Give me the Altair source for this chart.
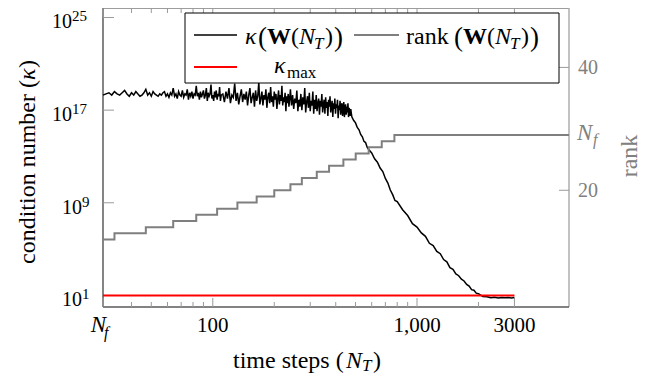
import altair as alt
import pandas as pd

FONT = "Liberation Serif"
W, H = 466, 299
GRAY = "#808080"
TICK = "#9a9a9a"

N_F = 29

# ---------------- data ----------------
# condition number kappa(W(N_T)), stored as log10 values
kappa_N_a = list(range(29, 111))
kappa_log_a = [18.3,
    18.4, 18.5, 18.3, 18.6, 18.4, 18.3, 18.5, 18.7, 18.4, 18.2,
    18.5, 18.3, 18.6, 18.4, 18.2, 18.3, 18.5, 18.8, 18.3, 18.5,
    18.2, 18.6, 18.4, 18.3, 18.2, 18.4, 18.3, 18.5, 18.6, 18.2,
    18.4, 18.1, 18.5, 18.3, 18.9, 18.2, 18.4, 18.0, 18.6, 18.3,
    18.2, 18.7, 18.1, 18.4, 18.3, 18.8, 17.9, 18.5, 18.2, 18.6,
    18.0, 18.4, 18.3, 19.1, 18.2, 18.5, 17.9, 18.6, 18.1, 18.4,
    18.7, 18.0, 18.3, 18.9, 17.8, 18.5, 18.2, 18.4, 19.2, 18.0,
    18.3, 17.8, 18.6, 18.1, 18.7, 17.9, 18.4, 18.2, 19.0, 17.8, 18.3]
kappa_N_b = list(range(112, 241, 2))
kappa_log_b = [
    18.4, 17.7, 18.6, 18.0, 18.9, 17.6, 18.3, 18.1, 19.3, 17.8,
    18.5, 17.5, 18.2, 18.8, 17.7, 18.4, 17.9, 18.6, 17.4, 18.3,
    18.9, 17.6, 18.1, 18.5, 17.3, 18.7, 17.8, 18.2, 19.4, 17.5,
    18.0, 18.6, 17.4, 18.3, 17.9, 18.8, 17.2, 18.1, 18.5, 17.6,
    19.0, 17.7, 18.2, 17.3, 18.6, 17.9, 18.4, 17.1, 18.0, 18.7,
    17.5, 18.3, 17.8, 19.1, 17.4, 18.1, 17.7, 18.5, 16.9, 18.2,
    17.6, 18.4, 17.3, 18.0, 18.8]
kappa_N_c = list(range(243, 478, 3))
kappa_log_c = [
    17.4, 18.3, 17.1, 18.0, 17.6, 18.7, 16.9, 17.9, 17.3, 18.4,
    17.0, 18.1, 17.5, 18.9, 16.8, 17.7, 18.2, 17.2, 18.5, 16.9,
    17.8, 17.4, 18.6, 16.7, 17.9, 17.1, 18.3, 16.9, 17.6, 18.0,
    16.6, 17.8, 17.3, 18.4, 16.8, 17.5, 17.9, 16.7, 18.1, 17.2,
    17.7, 16.5, 17.9, 17.3, 18.2, 16.8, 17.4, 17.8, 16.4, 17.6,
    17.1, 18.0, 16.7, 17.5, 17.2, 17.9, 16.3, 17.4, 17.0, 17.8,
    16.6, 17.3, 17.6, 16.5, 17.2, 17.7, 16.4, 17.1, 17.5, 16.6,
    17.3, 16.8, 17.6, 16.4, 17.2, 17.0, 16.5, 17.1, 16.7]
kappa_N_d = [480, 490, 500, 510, 520, 530, 540, 550, 560, 570, 580,
             600, 620, 640, 660, 680, 700, 720, 740, 760, 780, 800,
             850, 900, 950, 1000, 1050, 1100, 1150, 1200, 1250, 1300, 1350, 1400,
             1450, 1500, 1550, 1600, 1650, 1700, 1750, 1800, 1850, 1900, 1950, 2000,
             2100, 2200, 2300, 2400, 2500, 2600, 2700, 2800, 2900, 3000]
kappa_log_d = [16.4, 16.1, 15.9, 15.5, 15.3, 14.9, 14.7, 14.3, 14.2, 13.8, 13.6,
               13.3, 12.8, 12.5, 12.0, 11.7, 11.1, 10.7, 10.1, 9.7, 9.2, 9.1,
               8.4, 7.9, 7.2, 6.9, 6.4, 6.1, 5.5, 5.3, 4.8, 4.6, 4.1, 3.9,
               3.4, 3.25, 2.85, 2.7, 2.4, 2.25, 1.95, 1.8, 1.5, 1.45, 1.2, 1.15,
               0.9, 0.88, 0.8, 0.84, 0.78, 0.83, 0.79, 0.82, 0.78, 0.81]

# rank(W(N_T)): steps
rank_N = [29, 33, 47, 64, 83, 105, 132, 164, 200, 240, 273, 323, 371, 436, 501, 580, 672, 775, 5550]
rank_val = [12, 13, 14, 15, 16, 17, 18, 19, 20, 21, 22, 23, 24, 25, 26, 27, 28, 29, 29]

# kappa_max
kmax_N = [29, 3000]
kmax_val = [10, 10]

# axes
x_major_ticks = [29, 100, 1000, 3000]
x_labels_N = [100, 1000, 3000]
x_labels = ["100", "1,000", "3000"]
x_minor_ticks = [40, 50, 60, 70, 80, 90, 200, 300, 400, 500, 600, 700, 800, 900, 2000]
y_exps = [1, 9, 17, 25]
rank_ticks = [20, 29, 40]
rank_labels_v = [20, 40]
rank_labels = ["20", "40"]

# ---------------- tables ----------------
kN = kappa_N_a + kappa_N_b + kappa_N_c + kappa_N_d
kL = kappa_log_a + kappa_log_b + kappa_log_c + kappa_log_d
df_kappa = pd.DataFrame({"N": kN, "kappa": [10.0 ** v for v in kL]})
df_rank = pd.DataFrame({"N": rank_N, "rank": rank_val})
df_kmax = pd.DataFrame({"N": kmax_N, "kappa": kmax_val})
one = pd.DataFrame({"k": [0]})

xs = alt.Scale(type="log", domain=[N_F, 5550], nice=False)
ys = alt.Scale(type="log", domain=[1, 10 ** 25.82], nice=False)
rs = alt.Scale(domain=[1, 49.67], nice=False, zero=False)


def X(f="N"):
    return alt.X(f"{f}:Q", scale=xs, axis=None)


def YK(f):
    return alt.Y(f"{f}:Q", scale=ys, axis=None)


def YR(f):
    return alt.Y(f"{f}:Q", scale=rs, axis=None)


def txt(s, x, y, size=24, style="normal", weight="normal", color="#000000",
        align="left", angle=0, baseline="alphabetic"):
    return alt.Chart(one).mark_text(
        text=s, font=FONT, fontSize=size, fontStyle=style, fontWeight=weight,
        color=color, align=align, angle=angle, baseline=baseline
    ).encode(x=alt.value(x), y=alt.value(y))


def rule(x1, y1, x2, y2, color, w):
    return alt.Chart(one).mark_rule(color=color, strokeWidth=w).encode(
        x=alt.value(x1), y=alt.value(y1), x2=alt.value(x2), y2=alt.value(y2))


layers = []

# frame
layers += [
    rule(0, 0, W, 0, "#3c3c3c", 1.2),
    rule(W, 0, W, H, "#a8a8a8", 1.4),
    rule(0, 0, 0, H, "#666666", 1.6),
    rule(0, H, W, H, "#5a5a5a", 1.6),
]

# x ticks (bottom and top, inward)
df_xmaj = pd.DataFrame({"N": x_major_ticks})
df_xmin = pd.DataFrame({"N": x_minor_ticks})
for df, ln in [(df_xmaj, 9), (df_xmin, 5)]:
    layers.append(alt.Chart(df).mark_rule(color=TICK, strokeWidth=1).encode(
        x=X(), y=alt.value(H), y2=alt.value(H - ln)))
    layers.append(alt.Chart(df).mark_rule(color=TICK, strokeWidth=1).encode(
        x=X(), y=alt.value(0), y2=alt.value(ln)))

# left y ticks
df_y = pd.DataFrame({"e": [str(e) for e in y_exps], "v": [10.0 ** e for e in y_exps],
                     "two": [e >= 10 for e in y_exps]})
layers.append(alt.Chart(df_y).mark_rule(color=TICK, strokeWidth=1).encode(
    x=alt.value(0), x2=alt.value(11), y=YK("v")))

# right rank ticks
df_rt = pd.DataFrame({"r": rank_ticks})
layers.append(alt.Chart(df_rt).mark_rule(color=TICK, strokeWidth=1).encode(
    x=alt.value(W - 10), x2=alt.value(W), y=YR("r")))

# data lines
layers.append(alt.Chart(df_kappa).mark_line(color="black", strokeWidth=1.5).encode(
    x=X(), y=YK("kappa")))
layers.append(alt.Chart(df_rank).mark_line(color="#7f7f7f", strokeWidth=2, interpolate="step-after").encode(
    x=X(), y=YR("rank")))
layers.append(alt.Chart(df_kmax).mark_line(color="#ff0000", strokeWidth=2).encode(
    x=X(), y=YK("kappa")))

# left tick labels 10^e
for two, xr in [(True, -31), (False, -21)]:
    d = df_y[df_y["two"] == two]
    layers.append(alt.Chart(d).mark_text(text="10", font=FONT, fontSize=20, align="right",
                                         baseline="alphabetic", dy=11).encode(
        x=alt.value(xr), y=YK("v")))
    layers.append(alt.Chart(d).mark_text(font=FONT, fontSize=15, align="left",
                                         baseline="alphabetic", dy=4).encode(
        x=alt.value(xr), y=YK("v"), text="e:N"))

# bottom tick labels
df_xl = pd.DataFrame({"N": x_labels_N, "label": x_labels})
layers.append(alt.Chart(df_xl).mark_text(font=FONT, fontSize=21, align="center",
                                         baseline="alphabetic").encode(
    x=X(), y=alt.value(H + 25), text="label:N"))
df_nf = pd.DataFrame({"N": [N_F], "r": [N_F]})
layers.append(alt.Chart(df_nf).mark_text(text="N", font=FONT, fontSize=23, fontStyle="italic",
                                         align="right", baseline="alphabetic", dx=3).encode(
    x=X(), y=alt.value(H + 25)))
layers.append(alt.Chart(df_nf).mark_text(text="f", font=FONT, fontSize=16, fontStyle="italic",
                                         align="left", baseline="alphabetic", dx=1).encode(
    x=X(), y=alt.value(H + 31)))

# right tick labels
df_rl = pd.DataFrame({"r": rank_labels_v, "label": rank_labels})
layers.append(alt.Chart(df_rl).mark_text(font=FONT, fontSize=20, align="left", color=GRAY,
                                         baseline="alphabetic", dy=7).encode(
    x=alt.value(W + 9), y=YR("r"), text="label:N"))
layers.append(alt.Chart(df_nf).mark_text(text="N", font=FONT, fontSize=23, fontStyle="italic",
                                         align="left", color=GRAY, baseline="alphabetic", dy=5).encode(
    x=alt.value(W + 8), y=YR("r")))
layers.append(alt.Chart(df_nf).mark_text(text="f", font=FONT, fontSize=16, fontStyle="italic",
                                         align="left", color=GRAY, baseline="alphabetic", dy=10).encode(
    x=alt.value(W + 24), y=YR("r")))

# axis titles
layers += [
    txt("condition number (", -75, 256, angle=270, baseline="middle"),
    txt("κ", -75, 72, style="italic", angle=270, baseline="middle"),
    txt(")", -75, 60, angle=270, baseline="middle"),
]
layers.append(txt("rank", 527, 148, color=GRAY, angle=270, align="center", baseline="middle"))
layers += [
    txt("time steps (", 130, H + 61),
    txt("N", 243, H + 61, style="italic"),
    txt("T", 259, H + 64, size=17, style="italic"),
    txt(")", 270, H + 61),
]

# legend
layers.append(alt.Chart(one).mark_rect(fill="white", stroke="black", strokeWidth=1).encode(
    x=alt.value(82), x2=alt.value(456), y=alt.value(5), y2=alt.value(75)))
layers += [
    rule(91, 27, 134, 27, "black", 1.5),
    rule(251, 27, 296, 27, "#7f7f7f", 2),
    rule(91, 59, 134, 59, "#ff0000", 2),
    # kappa(W(N_T))
    txt("κ", 142, 36, style="italic"),
    txt("(", 155, 38, size=27),
    txt("W", 164, 36, weight="bold"),
    txt("(", 188, 36),
    txt("N", 196, 36, style="italic"),
    txt("T", 211, 41, size=17, style="italic"),
    txt(")", 222, 36),
    txt(")", 231, 38, size=27),
    # rank(W(N_T))
    txt("rank", 303, 36),
    txt("(", 351, 38, size=27),
    txt("W", 360, 36, weight="bold"),
    txt("(", 384, 36),
    txt("N", 392, 36, style="italic"),
    txt("T", 407, 41, size=17, style="italic"),
    txt(")", 418, 36),
    txt(")", 427, 38, size=27),
    # kappa_max
    txt("κ", 171, 65, style="italic"),
    txt("max", 184, 70, size=17),
]

chart = alt.layer(*layers).resolve_scale(y="independent").properties(
    width=W, height=H,
    padding={"left": 95, "top": 0, "right": 75, "bottom": 68},
    autosize=alt.AutoSizeParams(type="none"),
).configure_view(strokeWidth=0)

chart.save("out.html", embed_options={"renderer": "svg", "actions": False})
